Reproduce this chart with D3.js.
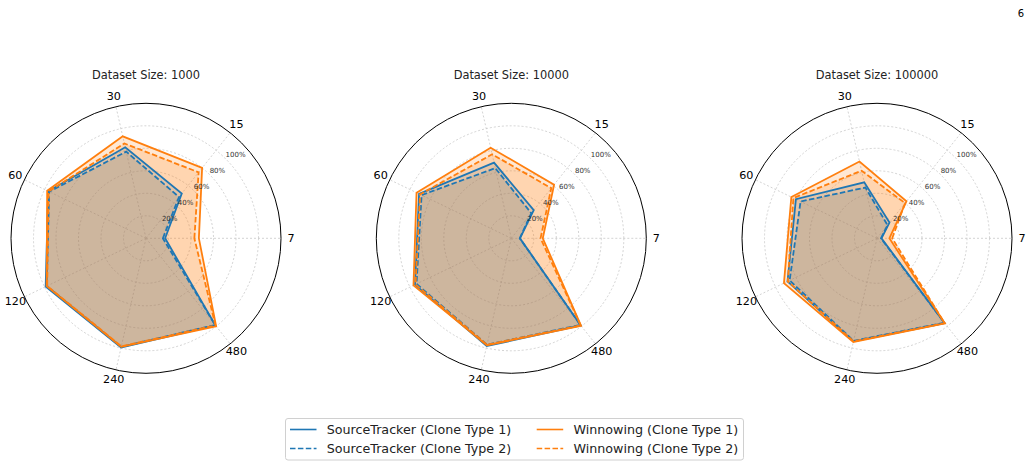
<!DOCTYPE html>
<html>
<head>
<meta charset="utf-8">
<script src="https://cdn.jsdelivr.net/npm/d3@7"></script>
<style>
  body { margin: 0; background: #fff; }
  svg { display: block; font-family: "DejaVu Sans", sans-serif; }
</style>
</head>
<body>
<div id="chart"></div>
<script>
// categories (spokes) and panels
const categories = ["7", "15", "30", "60", "120", "240", "480"];
const datasetSizes = ["1000", "10000", "100000"];
const radialTicks = [0.2, 0.4, 0.6, 0.8, 1.0];
const radialTickLabels = ["20%", "40%", "60%", "80%", "100%"];

// values per panel (1000, 10000, 100000)
const sourceTrackerType1 = [
  [0.17, 0.51, 0.83, 0.965, 0.99, 0.995, 0.99],
  [0.077, 0.32, 0.69, 0.91, 0.95, 0.983, 0.99],
  [0.04, 0.178, 0.51, 0.80, 0.883, 0.94, 0.965]
];
const sourceTrackerType2 = [
  [0.15, 0.47, 0.79, 0.955, 0.98, 0.99, 0.985],
  [0.075, 0.285, 0.64, 0.885, 0.935, 0.97, 0.985],
  [0.035, 0.15, 0.463, 0.754, 0.862, 0.935, 0.96]
];
const winnowingType1 = [
  [0.47, 0.80, 0.93, 0.975, 0.98, 0.99, 1.0],
  [0.28, 0.61, 0.826, 0.935, 0.965, 0.975, 0.995],
  [0.11, 0.42, 0.70, 0.845, 0.918, 0.946, 0.968]
];
const winnowingType2 = [
  [0.43, 0.75, 0.865, 0.96, 0.975, 0.985, 0.99],
  [0.26, 0.57, 0.766, 0.9, 0.945, 0.97, 0.99],
  [0.135, 0.40, 0.616, 0.825, 0.88, 0.94, 0.965]
];

const series = [
  { name: "SourceTracker (Clone Type 1)", values: sourceTrackerType1, color: "#1f77b4", dash: null },
  { name: "SourceTracker (Clone Type 2)", values: sourceTrackerType2, color: "#1f77b4", dash: "5.5,2.4" },
  { name: "Winnowing (Clone Type 1)", values: winnowingType1, color: "#ff7f0e", dash: null },
  { name: "Winnowing (Clone Type 2)", values: winnowingType2, color: "#ff7f0e", dash: "5.5,2.4" }
];

const width = 1035, height = 467;
const centersX = [146, 511.3, 877];
const centerY = 238.3;
const outerR = 135;

const svg = d3.select("#chart").append("svg")
  .attr("width", width)
  .attr("height", height);

// radius and angle scales
const r = d3.scaleLinear().domain([0, 1.2]).range([0, outerR]);
const angle = d3.scalePoint().domain(categories).range([0, 2 * Math.PI * 6 / 7]);
// d3 radial angle: 0 = up, clockwise; matplotlib: 0 = east, counter-clockwise
const toD3 = a => Math.PI / 2 - a;

const radialLine = d3.lineRadial()
  .angle((d, i) => toD3(angle(categories[i])))
  .radius(d => r(d))
  .curve(d3.curveLinearClosed);

datasetSizes.forEach((size, p) => {
  const g = svg.append("g")
    .attr("transform", `translate(${centersX[p]},${centerY})`);

  // grid circles
  g.selectAll(".grid-circle")
    .data(radialTicks)
    .enter()
    .append("circle")
    .attr("r", d => r(d))
    .attr("fill", "none")
    .attr("stroke", "#c8c8c8")
    .attr("stroke-width", 0.8)
    .attr("stroke-dasharray", "2,2");

  // spokes
  g.selectAll(".spoke")
    .data(categories)
    .enter()
    .append("line")
    .attr("x1", 0).attr("y1", 0)
    .attr("x2", d => outerR * Math.cos(angle(d)))
    .attr("y2", d => -outerR * Math.sin(angle(d)))
    .attr("stroke", "#c8c8c8")
    .attr("stroke-width", 0.8)
    .attr("stroke-dasharray", "2,2");

  // fills (below all lines)
  series.forEach(s => {
    g.append("path")
      .attr("d", radialLine(s.values[p]))
      .attr("fill", s.color)
      .attr("fill-opacity", 0.18)
      .attr("stroke", "none");
  });

  // lines
  series.forEach(s => {
    g.append("path")
      .attr("d", radialLine(s.values[p]))
      .attr("fill", "none")
      .attr("stroke", s.color)
      .attr("stroke-width", 1.8)
      .attr("stroke-linejoin", "miter")
      .attr("stroke-dasharray", s.dash);
  });

  // outer frame
  g.append("circle")
    .attr("r", outerR)
    .attr("fill", "none")
    .attr("stroke", "#000")
    .attr("stroke-width", 1);

  // radial tick labels at 45 degrees
  const la = Math.PI / 4;
  g.selectAll(".rlabel")
    .data(radialTicks)
    .enter()
    .append("text")
    .attr("x", d => r(d) * Math.cos(la))
    .attr("y", d => -r(d) * Math.sin(la) - 1.7)
    .attr("font-size", 7)
    .attr("fill", "#333")
    .text((d, i) => radialTickLabels[i]);

  // category labels
  g.selectAll(".clabel")
    .data(categories)
    .enter()
    .append("text")
    .attr("x", d => 145 * Math.cos(angle(d)))
    .attr("y", d => -145 * Math.sin(angle(d)))
    .attr("text-anchor", "middle")
    .attr("dominant-baseline", "central")
    .attr("font-size", 11.2)
    .attr("fill", "#000")
    .text(d => d);

  // title
  g.append("text")
    .attr("x", 0)
    .attr("y", 79 - centerY)
    .attr("text-anchor", "middle")
    .attr("font-size", 11.4)
    .attr("fill", "#222")
    .text(`Dataset Size: ${size}`);
});

// legend
const legend = svg.append("g");
legend.append("rect")
  .attr("x", 285.5).attr("y", 418.5)
  .attr("width", 458).attr("height", 41.5)
  .attr("rx", 2.5)
  .attr("fill", "#fff")
  .attr("stroke", "#d0d0d0")
  .attr("stroke-width", 1);

const colX = [290, 536.7];
const rowY = [429.5, 448.5];
series.forEach((s, i) => {
  const col = Math.floor(i / 2), row = i % 2;
  const x0 = colX[col], y0 = rowY[row];
  legend.append("line")
    .attr("x1", x0).attr("x2", x0 + 26.5)
    .attr("y1", y0).attr("y2", y0)
    .attr("stroke", s.color)
    .attr("stroke-width", 1.6)
    .attr("stroke-dasharray", s.dash);
  legend.append("text")
    .attr("x", x0 + 36.7)
    .attr("y", y0)
    .attr("dominant-baseline", "central")
    .attr("font-size", 12.7)
    .attr("fill", "#222")
    .text(s.name);
});

// page number
svg.append("text")
  .attr("x", 1021)
  .attr("y", 17)
  .attr("text-anchor", "middle")
  .attr("font-size", 10)
  .attr("fill", "#000")
  .text("6");
</script>
</body>
</html>
